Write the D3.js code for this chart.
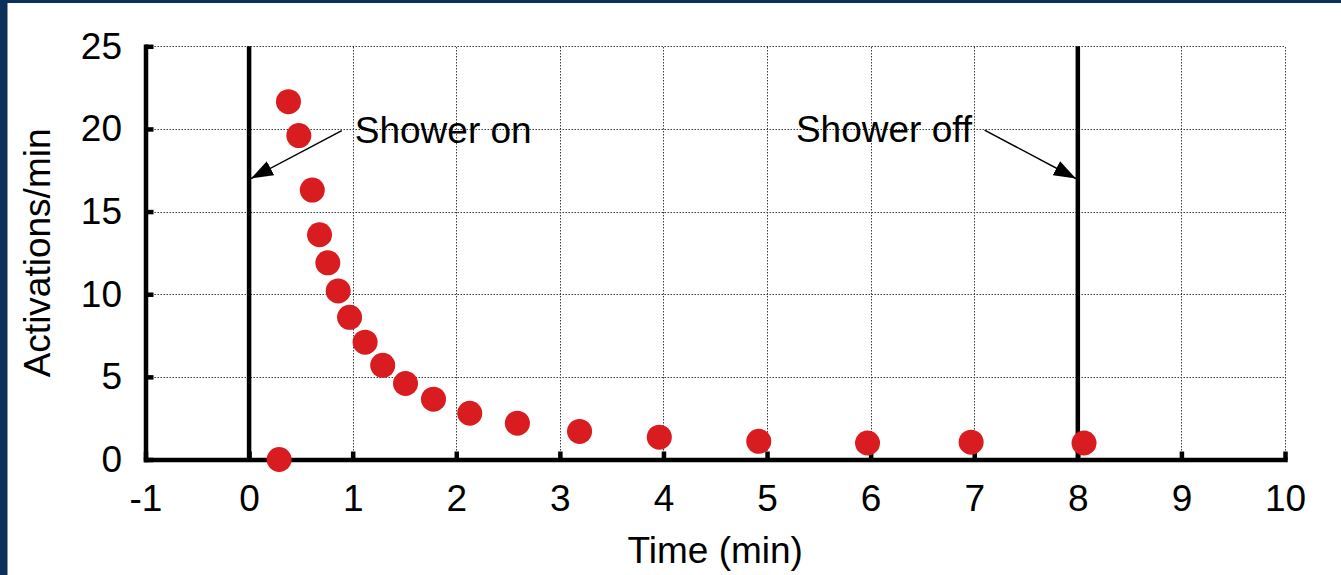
<!DOCTYPE html>
<html>
<head>
<meta charset="utf-8">
<script src="https://cdn.jsdelivr.net/npm/d3@7"></script>
<style>
  html, body { margin: 0; padding: 0; background: #ffffff; }
  svg { display: block; font-family: "Liberation Sans", Arial, Helvetica, sans-serif; }
</style>
</head>
<body>
<svg id="chart" width="1341" height="575"></svg>
<script>
// Sensor activation rate after the shower is switched on
const timeMin = [0.29, 0.38, 0.48, 0.61, 0.68, 0.76, 0.86, 0.97, 1.12, 1.29,
                 1.51, 1.78, 2.13, 2.59, 3.19, 3.96, 4.92, 5.97, 6.97, 8.06];
const activationsPerMin = [0.0, 21.65, 19.6, 16.3, 13.6, 11.9, 10.2, 8.6, 7.1, 5.7,
                           4.6, 3.65, 2.8, 2.2, 1.7, 1.35, 1.1, 1.0, 1.05, 1.0];

const xTicks = [-1, 0, 1, 2, 3, 4, 5, 6, 7, 8, 9, 10];
const yTicks = [0, 5, 10, 15, 20, 25];

const eventTimes  = [0, 8];
const eventLabels = ["Shower on", "Shower off"];

const xTitle = "Time (min)";
const yTitle = "Activations/min";

const W = 1341, H = 575;
const margin = { left: 145.5, right: 56, top: 46.3, bottom: 115.5 };
const FONT = 37;

const svg = d3.select("#chart");

// slide frame
svg.append("rect").attr("x", 0).attr("y", 0).attr("width", W).attr("height", H).attr("fill", "#0c2f5c");
svg.append("rect").attr("x", 7).attr("y", 3).attr("width", W - 7).attr("height", H - 3).attr("fill", "#ffffff");
svg.append("line").attr("x1", 7.5).attr("x2", 7.5).attr("y1", 3).attr("y2", H)
  .attr("stroke", "#8a96a8").attr("stroke-width", 1);

const x = d3.scaleLinear().domain([-1, 10]).range([margin.left, W - margin.right]);
const y = d3.scaleLinear().domain([0, 25]).range([H - margin.bottom, margin.top]);

const g = svg.append("g");

// dotted grid
const grid = g.append("g").attr("stroke", "#3a3a3a").attr("stroke-width", 1).attr("stroke-dasharray", "1.5,1.5");
grid.selectAll("line.v").data(xTicks.filter(d => d > -1)).join("line")
  .attr("class", "v")
  .attr("x1", d => Math.round(x(d)) + 0.5).attr("x2", d => Math.round(x(d)) + 0.5)
  .attr("y1", y(0)).attr("y2", y(25));
grid.selectAll("line.h").data(yTicks.filter(d => d > 0)).join("line")
  .attr("class", "h")
  .attr("y1", d => Math.round(y(d)) + 0.5).attr("y2", d => Math.round(y(d)) + 0.5)
  .attr("x1", x(-1)).attr("x2", x(10));

// shower on / off markers
g.append("g").selectAll("line").data(eventTimes).join("line")
  .attr("x1", d => x(d)).attr("x2", d => x(d))
  .attr("y1", y(0)).attr("y2", y(25))
  .attr("stroke", "#000").attr("stroke-width", 4.5);

// axes
const plain = d => String(d);
const xAxis = d3.axisBottom(x).tickValues(xTicks).tickFormat(plain)
  .tickSizeInner(-8).tickSizeOuter(0).tickPadding(25);
const yAxis = d3.axisLeft(y).tickValues(yTicks).tickFormat(plain)
  .tickSizeInner(-8).tickSizeOuter(0).tickPadding(23.5);

function styleAxis(sel) {
  sel.select(".domain").attr("stroke", "#000").attr("stroke-width", 4.5).attr("stroke-linecap", "square");
  sel.selectAll(".tick line").attr("stroke", "#000").attr("stroke-width", 4.5);
  sel.selectAll(".tick text").attr("fill", "#000").attr("font-size", FONT)
    .attr("font-family", "'Liberation Sans', Arial, sans-serif");
}

g.append("g").attr("transform", `translate(0,${y(0)})`).call(xAxis).call(styleAxis);
g.append("g").attr("transform", `translate(${x(-1)},0)`).call(yAxis).call(styleAxis);

// axis titles
svg.append("text")
  .attr("x", (x(-1) + x(10)) / 2).attr("y", 563)
  .attr("text-anchor", "middle").attr("font-size", FONT).attr("fill", "#000")
  .text(xTitle);
svg.append("text")
  .attr("transform", `translate(50,${(y(0) + y(25)) / 2}) rotate(-90)`)
  .attr("text-anchor", "middle").attr("font-size", FONT).attr("fill", "#000")
  .text(yTitle);

// data points
g.append("g").selectAll("circle").data(timeMin.map((t, i) => [t, activationsPerMin[i]])).join("circle")
  .attr("cx", d => x(d[0])).attr("cy", d => y(d[1])).attr("r", 12.5)
  .attr("fill", "#d81c1f");

// annotation arrows
svg.append("defs").append("marker")
  .attr("id", "arrowhead").attr("markerUnits", "userSpaceOnUse")
  .attr("viewBox", "0 0 22 16").attr("markerWidth", 22).attr("markerHeight", 16)
  .attr("refX", 22).attr("refY", 8).attr("orient", "auto")
  .append("path").attr("d", "M0,0 L22,8 L0,16 Z").attr("fill", "#000");

const notes = [
  { text: eventLabels[0], t: eventTimes[0], from: [0.895, 19.9], tipDx: 2,  label: [1.02, 19.15], anchor: "start" },
  { text: eventLabels[1], t: eventTimes[1], from: [7.10, 19.93], tipDx: -2, label: [6.98, 19.2],  anchor: "end" }
];

const ann = svg.append("g");
ann.selectAll("line").data(notes).join("line")
  .attr("x1", d => x(d.from[0])).attr("y1", d => y(d.from[1]))
  .attr("x2", d => x(d.t) + d.tipDx).attr("y2", y(17.0))
  .attr("stroke", "#000").attr("stroke-width", 1.5)
  .attr("marker-end", "url(#arrowhead)");
ann.selectAll("text").data(notes).join("text")
  .attr("x", d => x(d.label[0])).attr("y", d => y(d.label[1]))
  .attr("text-anchor", d => d.anchor).attr("font-size", FONT).attr("fill", "#000")
  .text(d => d.text);
</script>
</body>
</html>
